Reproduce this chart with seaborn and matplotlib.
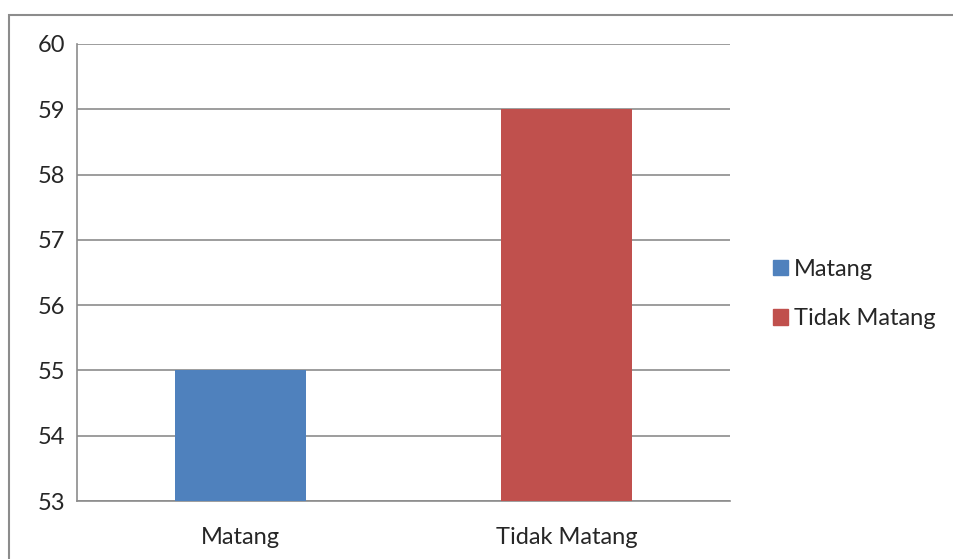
import matplotlib
matplotlib.use("Agg")
import matplotlib.pyplot as plt
import matplotlib.patches as mpatches
import seaborn as sns

# data
categories = ["Matang", "Tidak Matang"]
values = [55, 59]
colors = ["#4F81BD", "#C0504D"]
y_ticks = [53, 54, 55, 56, 57, 58, 59, 60]

sns.set_style("white")
plt.rcParams["font.family"] = ["Lato", "DejaVu Sans"]

fig = plt.figure(figsize=(9.54, 5.59), dpi=100)
ax = fig.add_axes([77 / 954, 1 - 501 / 559, (730 - 77) / 954, (501 - 44) / 559])

sns.barplot(x=categories, y=values, hue=categories, palette=colors,
            width=0.4, dodge=False, legend=False, saturation=1,
            linewidth=0, ax=ax, zorder=3)

ax.set_ylim(53, 60)
ax.set_yticks(y_ticks)
ax.set_xlim(-0.5, 1.5)
ax.yaxis.grid(True, color="#8c8c8c", linewidth=1.2, zorder=0)
ax.set_axisbelow(True)

# category separators on x axis
ax.set_xticks([-0.5, 0.5, 1.5], minor=False)
ax.set_xticklabels([])
ax.set_xticks([0, 1], minor=True)
ax.set_xticklabels(categories, minor=True)
ax.tick_params(axis="x", which="major", length=7, width=1.2, color="#8c8c8c", direction="out")
ax.tick_params(axis="x", which="minor", length=0, labelsize=17, pad=19)
ax.tick_params(axis="y", length=7, width=1.2, color="#8c8c8c", labelsize=17, pad=1.5)

for side in ["top", "right"]:
    ax.spines[side].set_visible(False)
for side in ["left", "bottom"]:
    ax.spines[side].set_color("#8c8c8c")
    ax.spines[side].set_linewidth(1.2)
ax.set_xlabel("")
ax.set_ylabel("")

handles = [mpatches.Patch(color=c, label=l) for c, l in zip(colors, categories)]
fig.legend(handles=handles, loc="center left", bbox_to_anchor=(756 / 954, 1 - 294 / 559),
           frameon=False, fontsize=17, handlelength=0.65, handleheight=0.65,
           handletextpad=0.25, labelspacing=1.2, borderpad=0.2)

# outer chart border
fig.patches.append(mpatches.Rectangle((9.5 / 954, -0.01), 1.0, 1 - 14.5 / 559 + 0.01,
                                      transform=fig.transFigure, fill=False,
                                      edgecolor="#8c8c8c", linewidth=1.5))

fig.savefig("out.png", dpi=100)
